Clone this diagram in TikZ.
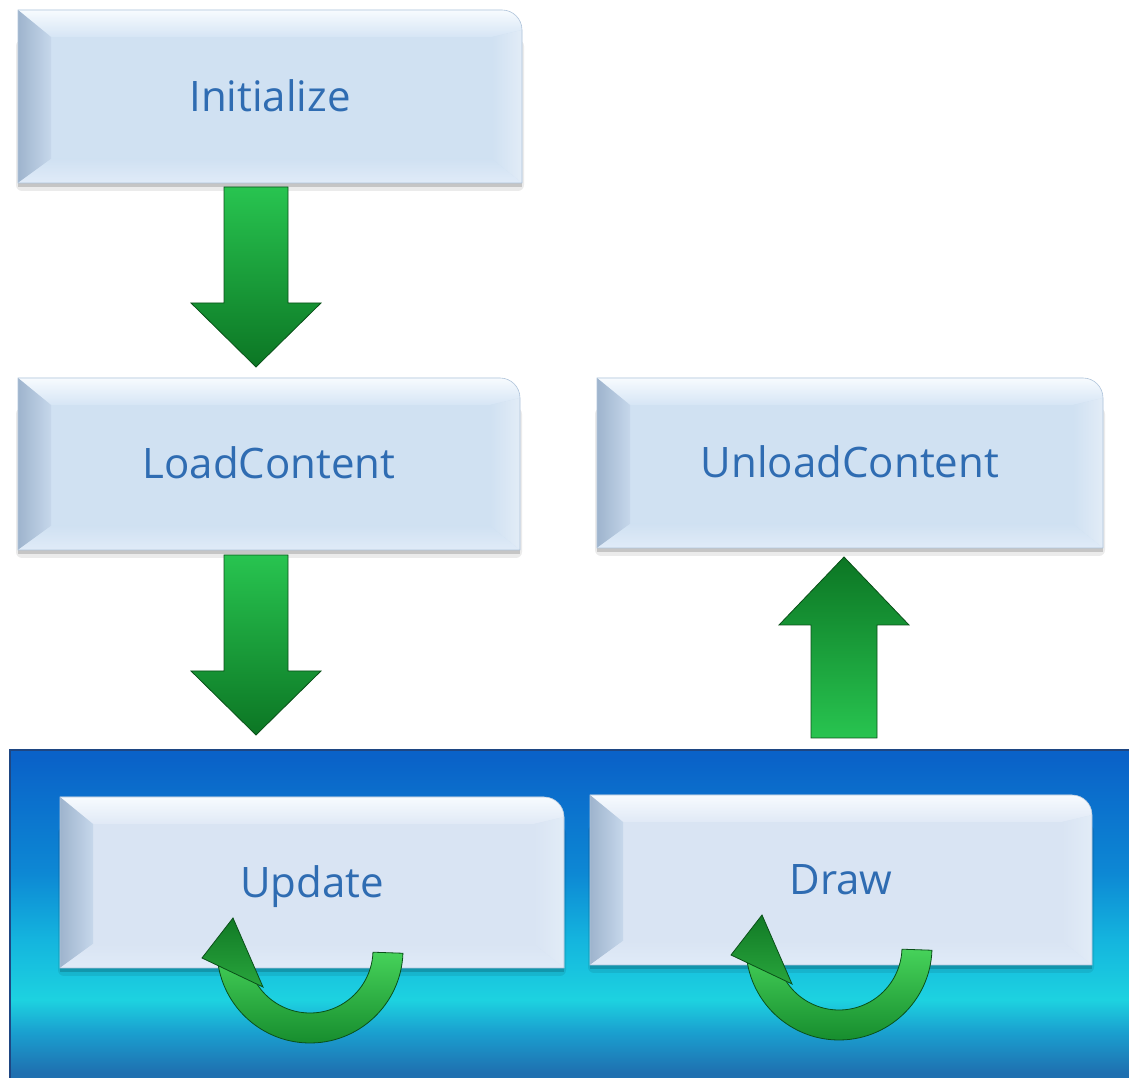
\documentclass[tikz,border=0pt]{standalone}
\usepackage{fontspec}
\setmainfont{Open Sans}
\usetikzlibrary{calc}

\definecolor{boxface}{RGB}{208,225,242}
\definecolor{boxtop}{RGB}{247,251,254}
\definecolor{boxtoptwo}{RGB}{214,229,245}
\definecolor{boxleft}{RGB}{158,180,205}
\definecolor{boxlefttwo}{RGB}{198,215,235}
\definecolor{boxright}{RGB}{226,236,247}
\definecolor{boxbottom}{RGB}{224,235,248}
\definecolor{boxline}{RGB}{176,196,218}
\definecolor{txtblue}{RGB}{47,108,178}
\definecolor{gLight}{RGB}{40,196,80}
\definecolor{gDark}{RGB}{12,118,36}
\definecolor{gEdge}{RGB}{10,80,25}
\definecolor{gLoopLight}{RGB}{70,210,90}
\definecolor{gLoopDark}{RGB}{22,140,45}
\definecolor{gHeadTop}{RGB}{18,122,38}
\definecolor{gHeadBot}{RGB}{40,165,60}
\definecolor{pA}{RGB}{10,98,200}
\definecolor{pB}{RGB}{13,136,212}
\definecolor{pC}{RGB}{20,181,222}
\definecolor{pD}{RGB}{29,210,224}
\definecolor{pE}{RGB}{26,159,207}
\definecolor{pF}{RGB}{31,112,176}
\definecolor{panelEdge}{RGB}{30,70,130}

\pgfdeclareverticalshading{bluepanel}{100bp}{color(0bp)=(pF); color(25.8bp)=(pF); color(31.9bp)=(pE); color(36.9bp)=(pD); color(46bp)=(pC); color(56.25bp)=(pB); color(74bp)=(pA); color(100bp)=(pA)}

\tikzset{
  boxtext/.style={rectangle, inner sep=0pt, outer sep=0pt, text=txtblue,
    font=\fontsize{42}{50}\selectfont, text height=38pt, text depth=8pt},
  panelbox/.style={rectangle, inner sep=0pt, outer sep=0pt, shade, shading=bluepanel},
  dnarrow/.style={draw=gEdge, line width=0.8pt, top color=gLight, bottom color=gDark},
  uparrow/.style={draw=gEdge, line width=0.8pt, top color=gDark, bottom color=gLight},
  loopband/.style={draw=gEdge, line width=0.8pt, top color=gLoopLight, bottom color=gLoopDark},
  loophead/.style={draw=gEdge, line width=0.8pt, top color=gHeadTop, bottom color=gHeadBot}
}

% name, center, width, height, text
\newcommand\bevelnode[5]{%
  \begin{scope}[shift={(#2)}]
    \pgfmathsetmacro\hw{#3/2}
    \pgfmathsetmacro\hh{#4/2}
    \fill[black, opacity=0.08, rounded corners=6pt] (-\hw-2,-\hh-8) rectangle (\hw+2,\hh-30);
    \fill[black, opacity=0.16] (-\hw,-\hh-4) rectangle (\hw,\hh-30);
    \fill[boxface] (-\hw,-\hh) -- (-\hw,\hh) -- (\hw-20,\hh) arc[start angle=90,end angle=0,radius=20pt] -- (\hw,-\hh) -- cycle;
    \path[top color=boxtop, bottom color=boxtoptwo] (-\hw,\hh) -- (\hw-20,\hh) arc[start angle=90,end angle=0,radius=20pt] -- (\hw-30,\hh-27) -- (-\hw+33,\hh-27) -- cycle;
    \path[left color=boxleft, right color=boxlefttwo] (-\hw,-\hh) -- (-\hw,\hh) -- (-\hw+33,\hh-27) -- (-\hw+33,-\hh+24) -- cycle;
    \path[left color=boxface, right color=boxright] (\hw,\hh-20) -- (\hw,-\hh) -- (\hw-30,-\hh+24) -- (\hw-30,\hh-27) -- cycle;
    \path[top color=boxface, bottom color=boxbottom] (-\hw,-\hh) -- (\hw,-\hh) -- (\hw-30,-\hh+24) -- (-\hw+33,-\hh+24) -- cycle;
    \draw[boxline, line width=0.6pt] (-\hw,-\hh) -- (-\hw,\hh) -- (\hw-20,\hh) arc[start angle=90,end angle=0,radius=20pt] -- (\hw,-\hh) -- cycle;
  \end{scope}
  \node[boxtext, minimum width=#3pt, minimum height=#4pt] (#1) at (#2) {#5};
}

% start, tip, signed head length, shaft half width, style
\newcommand\blockarrow[5]{%
  \path[#5] let \p1=(#1), \p2=(#2) in
    ({\x1-#4},\y1) -- ({\x1+#4},\y1) -- ({\x1+#4},{\y2+(#3)}) -- ({\x1+65pt},{\y2+(#3)})
    -- (\x1,\y2) -- ({\x1-65pt},{\y2+(#3)}) -- ({\x1-#4},{\y2+(#3)}) -- cycle;
}

% self loop under a node
\newcommand\looparrow[1]{%
  \begin{scope}[shift={($(#1.south)+(-2pt,18pt)$)}]
    \path[loopband] (-2:93pt) arc[start angle=-2,end angle=-171,radius=93pt]
      -- (-150:63pt) arc[start angle=-150,end angle=-2,radius=63pt] -- cycle;
    \path[loophead] (-108pt,-8pt) -- (-77pt,32pt) -- (-47pt,-37pt) -- cycle;
  \end{scope}
}

\begin{document}
\begin{tikzpicture}[x=1pt,y=1pt]
  \useasboundingbox (0,0) rectangle (1129,1078);

  % loop panel
  \node[panelbox, minimum width=1119pt, minimum height=328pt] (panel) at (569.5,164) {};
  \draw[panelEdge, line width=1.5pt] (panel.south west) -- (panel.north west) -- (panel.north east);

  % boxes
  \bevelnode{init}{270,981.5}{504}{173}{Initialize}
  \bevelnode{load}{269,614}{502}{172}{LoadContent}
  \bevelnode{unload}{850,615}{506}{170}{UnloadContent}
  \begin{scope}
    \definecolor{boxface}{RGB}{217,228,243}
    \definecolor{boxtoptwo}{RGB}{224,233,246}
    \bevelnode{update}{312,195.5}{504}{171}{Update}
    \bevelnode{drw}{841,198}{502}{170}{Draw}
  \end{scope}

  % self loops
  \looparrow{update}
  \looparrow{drw}

  % connectors
  \coordinate (a1s) at ($(init.south)+(-14pt,-4pt)$);
  \coordinate (a1e) at ($(load.north)+(-13pt,11pt)$);
  \blockarrow{a1s}{a1e}{64pt}{32pt}{dnarrow}

  \coordinate (a2s) at ($(load.south)+(-13pt,-5pt)$);
  \coordinate (a2e) at ($(a2s|-panel.north)+(0,15pt)$);
  \blockarrow{a2s}{a2e}{64pt}{32pt}{dnarrow}

  \coordinate (a3e) at ($(unload.south)+(-6pt,-9pt)$);
  \coordinate (a3s) at ($(a3e|-panel.north)+(0,12pt)$);
  \blockarrow{a3s}{a3e}{-68pt}{33pt}{uparrow}
\end{tikzpicture}
\end{document}
